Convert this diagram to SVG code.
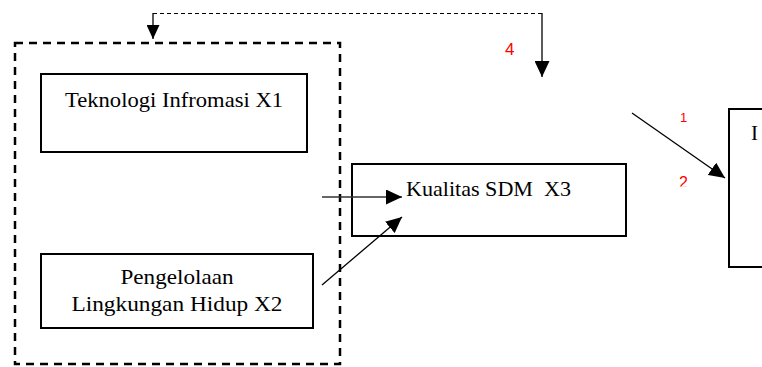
<svg xmlns="http://www.w3.org/2000/svg" width="762" height="367" viewBox="0 0 762 367">
<style>
.box{fill:none;stroke:#000;stroke-width:2}
.grp{fill:none;stroke:#000;stroke-width:2.5;stroke-dasharray:8 6}
.t{font-family:"Liberation Serif","Times New Roman",serif;font-size:21px;fill:#000}
.n{font-family:"Liberation Sans",Arial,sans-serif;fill:#ff0000}
.ln{fill:none;stroke:#000;stroke-width:1.3}
.dl{fill:none;stroke:#000;stroke-width:1;stroke-dasharray:4 3}
</style>
<defs>
<marker id="ah" markerUnits="userSpaceOnUse" markerWidth="16" markerHeight="15" refX="16" refY="7.5" orient="auto">
<path d="M0,0 L16,7.5 L0,15 z" fill="#000"/>
</marker>
<marker id="ahs" markerUnits="userSpaceOnUse" markerWidth="14" markerHeight="13" refX="14" refY="6.5" orient="auto">
<path d="M0,0 L14,6.5 L0,13 z" fill="#000"/>
</marker>
<clipPath id="c2"><rect x="670" y="165" width="30" height="21.5"/></clipPath>
</defs>
<g id="group-x1x2">
<rect class="grp" x="15" y="43" width="325" height="321"/>
</g>
<g id="node-x1">
<rect class="box" x="41" y="74" width="266" height="78"/>
<text class="t" x="174" y="107" text-anchor="middle" textLength="218" lengthAdjust="spacingAndGlyphs">Teknologi Infromasi X1</text>
</g>
<g id="node-x2">
<rect class="box" x="41" y="254" width="272" height="74"/>
<text class="t" x="177" y="284" text-anchor="middle" textLength="113" lengthAdjust="spacingAndGlyphs">Pengelolaan</text>
<text class="t" x="177" y="311" text-anchor="middle" textLength="211" lengthAdjust="spacingAndGlyphs">Lingkungan Hidup X2</text>
</g>
<g id="node-x3">
<rect class="box" x="352" y="164" width="274" height="72"/>
<text class="t" x="406" y="196" xml:space="preserve" textLength="165" lengthAdjust="spacingAndGlyphs">Kualitas SDM  X3</text>
</g>
<g id="node-y">
<rect class="box" x="729" y="109" width="60" height="158"/>
<text class="t" x="751" y="140">I</text>
</g>
<g id="connectors">
<polyline class="dl" points="542,13.5 153,13.5"/>
<line class="ln" x1="153" y1="13" x2="153" y2="39" marker-end="url(#ahs)"/>
<line class="ln" x1="542" y1="13" x2="542" y2="77" marker-end="url(#ah)"/>
<line class="ln" x1="632" y1="113" x2="725" y2="178" marker-end="url(#ah)"/>
<line class="ln" x1="322" y1="197" x2="402" y2="197" stroke="#333" style="stroke:#333" marker-end="url(#ah)"/>
<line class="ln" x1="322" y1="285" x2="402" y2="217" marker-end="url(#ah)"/>
</g>
<g id="labels">
<text class="n" x="505" y="55" font-size="17">4</text>
<text class="n" x="680" y="122" font-size="13">1</text>
<text class="n" x="679" y="188" font-size="16" clip-path="url(#c2)">2</text>
</g>
</svg>
